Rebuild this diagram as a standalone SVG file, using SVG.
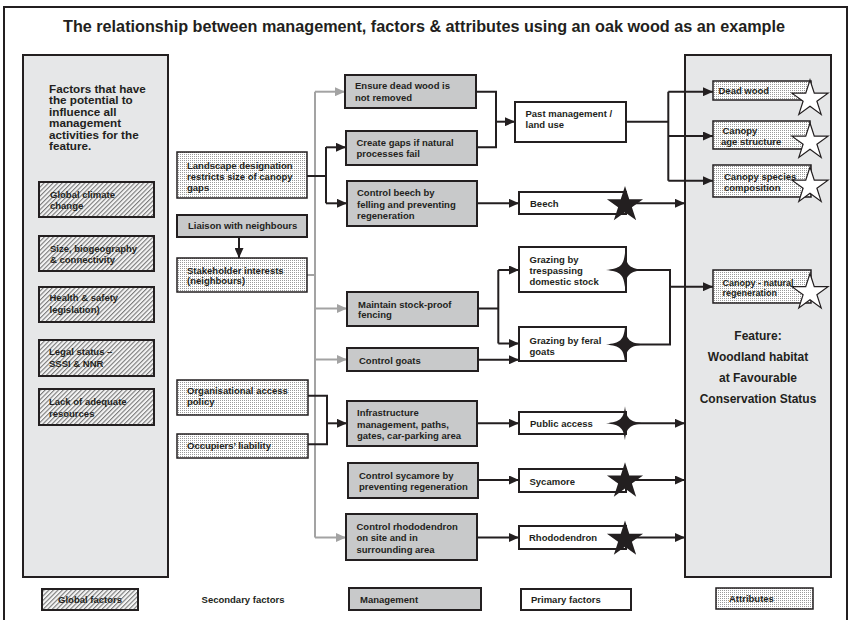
<svg xmlns="http://www.w3.org/2000/svg" xmlns:xlink="http://www.w3.org/1999/xlink" width="850" height="620" viewBox="0 0 850 620">
<defs>
<style>
.t{font-family:"Liberation Sans",Arial,Helvetica,sans-serif;font-weight:bold;fill:#231f20;font-size:9.5px}
.big{font-size:11.7px}
.ttl{font-size:16px}
.feat{font-size:12px}
.panel{fill:#e6e7e8;stroke:#231f20;stroke-width:2}
.mg{fill:#c8c9ca;stroke:#231f20;stroke-width:2}
.pf{fill:#ffffff;stroke:#231f20;stroke-width:2}
.sf{fill:url(#dots);stroke:#231f20;stroke-width:1.5}
.at{fill:url(#dots);stroke:#231f20;stroke-width:1.5}
.gf{fill:url(#hatch);stroke:#231f20;stroke-width:2}
.c{fill:none;stroke:#231f20;stroke-width:2}
.g{fill:none;stroke:#a3a3a3;stroke-width:2}
.ca{fill:none;stroke:#231f20;stroke-width:2;marker-end:url(#ab)}
.ga{fill:none;stroke:#a3a3a3;stroke-width:2;marker-end:url(#ag)}
.bs{fill:#231f20}
.ws{fill:#ffffff;stroke:#231f20;stroke-width:1.2}
</style>
<pattern id="dots" patternUnits="userSpaceOnUse" width="2" height="2">
<rect width="2" height="2" fill="#ffffff"/>
<rect width="1" height="1" fill="#9a9a9a"/>
</pattern>
<pattern id="hatch" patternUnits="userSpaceOnUse" width="3.2" height="3.2" patternTransform="rotate(45)">
<rect width="3.2" height="3.2" fill="#f4f4f4"/>
<rect width="1.1" height="3.2" fill="#7a7a7a"/>
</pattern>
<marker id="ab" markerUnits="userSpaceOnUse" markerWidth="10" markerHeight="9" refX="10" refY="4.5" orient="auto">
<path d="M0,0 L10,4.5 L0,9 Z" fill="#231f20"/>
</marker>
<marker id="ag" markerUnits="userSpaceOnUse" markerWidth="10" markerHeight="9" refX="10" refY="4.5" orient="auto">
<path d="M0,0 L10,4.5 L0,9 Z" fill="#a3a3a3"/>
</marker>
<path id="star5" d="M0,-19 L4.27,-5.87 L18.07,-5.87 L6.9,2.24 L11.17,15.37 L0,7.26 L-11.17,15.37 L-6.9,2.24 L-18.07,-5.87 L-4.27,-5.87 Z"/>
<path id="star4" d="M0,-17 C1.5,-4.5 4.5,-1.5 19,0 C4.5,1.5 1.5,4.5 0,17 C-1.5,4.5 -4.5,1.5 -19,0 C-4.5,-1.5 -1.5,-4.5 0,-17 Z"/>
</defs>

<rect width="850" height="620" fill="#ffffff"/>
<rect x="4" y="7" width="843" height="630" fill="none" stroke="#231f20" stroke-width="2"/>
<text class="t ttl" x="424" y="32" text-anchor="middle" textLength="722" lengthAdjust="spacingAndGlyphs">The relationship between management, factors &amp; attributes using an oak wood as an example</text>

<g id="global-panel">
<rect class="panel" x="23" y="55" width="145" height="522"/>
<text class="t big" x="49"><tspan x="49" y="92.5">Factors that have</tspan><tspan x="49" y="104">the potential to</tspan><tspan x="49" y="115.5">influence all</tspan><tspan x="49" y="127">management</tspan><tspan x="49" y="138.5">activities for the</tspan><tspan x="49" y="150">feature.</tspan></text>
</g>
<g id="gf-climate"><rect class="gf" x="39" y="182" width="115" height="35"/><text class="t"><tspan x="50" y="197.5">Global climate</tspan><tspan x="50" y="208.5">change</tspan></text></g>
<g id="gf-size"><rect class="gf" x="39" y="236" width="115" height="35"/><text class="t"><tspan x="50" y="251.5">Size, biogeography</tspan><tspan x="50" y="263">&amp; connectivity</tspan></text></g>
<g id="gf-health"><rect class="gf" x="39" y="287" width="115" height="35"/><text class="t"><tspan x="49.5" y="301">Health &amp; safety</tspan><tspan x="49.5" y="312.5">legislation)</tspan></text></g>
<g id="gf-legal"><rect class="gf" x="39" y="340" width="115" height="36"/><text class="t"><tspan x="49" y="355">Legal status –</tspan><tspan x="49" y="366.5">SSSI &amp; NNR</tspan></text></g>
<g id="gf-lack"><rect class="gf" x="39" y="389" width="115" height="36"/><text class="t"><tspan x="49" y="405">Lack of adequate</tspan><tspan x="49" y="416.5">resources</tspan></text></g>

<g id="attr-panel">
<rect class="panel" x="685" y="55" width="146" height="522"/>
<text class="t feat" text-anchor="middle"><tspan x="758" y="340">Feature:</tspan><tspan x="758" y="361">Woodland habitat</tspan><tspan x="758" y="382">at Favourable</tspan><tspan x="758" y="403">Conservation Status</tspan></text>
</g>

<g id="connectors">
<path class="g" d="M315,91.7 V537.5"/>
<path class="ga" d="M315,91.7 H345"/>
<path class="g" d="M307,275 H315"/>
<path class="ga" d="M315,308.5 H347"/>
<path class="ga" d="M315,359.5 H347"/>
<path class="ga" d="M315,537.5 H346"/>
<path class="ca" d="M239,237 V258"/>
<path class="c" d="M307,176 H326 M326,147 V203.3"/>
<path class="ca" d="M326,147.3 H346"/>
<path class="ca" d="M326,203.3 H347"/>
<path class="c" d="M308,395.7 H327 V444.3 H308"/>
<path class="ca" d="M327,423.3 H347"/>
<path class="c" d="M476,91.7 H496 V147.3 H477"/>
<path class="ca" d="M496,121.7 H515"/>
<path class="ca" d="M477,203.3 H519"/>
<path class="ca" d="M626,203.3 H685"/>
<path class="c" d="M626,121.7 H668.3 M668.3,91.7 V180.7"/>
<path class="ca" d="M668.3,91.7 H713"/>
<path class="ca" d="M668.3,136 H713"/>
<path class="ca" d="M668.3,180.7 H713"/>
<path class="c" d="M478,308.5 H498.3 M498.3,270 V343.5"/>
<path class="ca" d="M498.3,270 H519"/>
<path class="ca" d="M498.3,343.5 H519"/>
<path class="ca" d="M478,359.8 H519"/>
<path class="c" d="M626,270 H670 V344.5 H626"/>
<path class="ca" d="M670,286.7 H713"/>
<path class="ca" d="M477,423.3 H519"/>
<path class="ca" d="M626,423.3 H685"/>
<path class="ca" d="M478,480 H519"/>
<path class="ca" d="M626,480 H685"/>
<path class="ca" d="M477,537.5 H519"/>
<path class="ca" d="M626,537.5 H685"/>
</g>

<g id="sf-landscape"><rect class="sf" x="177" y="152" width="130" height="46"/><text class="t"><tspan x="187" y="168.5">Landscape designation</tspan><tspan x="187" y="180">restricts size of canopy</tspan><tspan x="187" y="191">gaps</tspan></text></g>
<g id="mg-liaison"><rect class="mg" x="177" y="215" width="130" height="22"/><text class="t" x="188" y="229">Liaison with neighbours</text></g>
<g id="sf-stakeholder"><rect class="sf" x="177" y="258" width="130" height="34"/><text class="t"><tspan x="187" y="273.5">Stakeholder interests</tspan><tspan x="187" y="284">(neighbours)</tspan></text></g>
<g id="sf-access"><rect class="sf" x="177" y="380" width="131" height="35"/><text class="t"><tspan x="187" y="394">Organisational access</tspan><tspan x="187" y="405">policy</tspan></text></g>
<g id="sf-occupiers"><rect class="sf" x="177" y="434" width="131" height="24"/><text class="t" x="187" y="449">Occupiers’ liability</text></g>

<g id="mg-deadwood"><rect class="mg" x="345" y="75" width="131" height="33"/><text class="t"><tspan x="355" y="89">Ensure dead wood is</tspan><tspan x="355" y="100.5">not removed</tspan></text></g>
<g id="mg-gaps"><rect class="mg" x="346" y="131" width="131" height="34"/><text class="t"><tspan x="356.5" y="145.5">Create gaps if natural</tspan><tspan x="356.5" y="157">processes fail</tspan></text></g>
<g id="mg-beech"><rect class="mg" x="347" y="181" width="130" height="45"/><text class="t"><tspan x="357" y="196">Control beech by</tspan><tspan x="357" y="207.5">felling and preventing</tspan><tspan x="357" y="219">regeneration</tspan></text></g>
<g id="mg-fencing"><rect class="mg" x="347" y="292" width="131" height="34"/><text class="t"><tspan x="358" y="307.5">Maintain stock-proof</tspan><tspan x="358" y="318">fencing</tspan></text></g>
<g id="mg-goats"><rect class="mg" x="347" y="348" width="131" height="23"/><text class="t" x="359" y="363.5">Control goats</text></g>
<g id="mg-infra"><rect class="mg" x="347" y="401" width="130" height="45"/><text class="t"><tspan x="357" y="416">Infrastructure</tspan><tspan x="357" y="427.5">management, paths,</tspan><tspan x="357" y="438.5">gates, car-parking area</tspan></text></g>
<g id="mg-sycamore"><rect class="mg" x="348" y="463" width="130" height="35"/><text class="t"><tspan x="359" y="479">Control sycamore by</tspan><tspan x="359" y="490">preventing regeneration</tspan></text></g>
<g id="mg-rhodo"><rect class="mg" x="346" y="514" width="131" height="46"/><text class="t"><tspan x="356.5" y="530">Control rhododendron</tspan><tspan x="356.5" y="541">on site and in</tspan><tspan x="356.5" y="552.5">surrounding area</tspan></text></g>

<g id="pf-past"><rect class="pf" x="515" y="102" width="111" height="40"/><text class="t"><tspan x="525.5" y="116.5">Past management /</tspan><tspan x="525.5" y="127.5">land use</tspan></text></g>
<g id="pf-beech"><rect class="pf" x="519" y="192" width="107" height="22"/><text class="t" x="530" y="206.5">Beech</text><use href="#star5" class="bs" x="625" y="205"/></g>
<g id="pf-trespass"><rect class="pf" x="519" y="247" width="107" height="45"/><text class="t"><tspan x="529.5" y="262.5">Grazing by</tspan><tspan x="529.5" y="274">trespassing</tspan><tspan x="529.5" y="284.5">domestic stock</tspan></text><use href="#star4" class="bs" x="625" y="270"/></g>
<g id="pf-feral"><rect class="pf" x="519" y="327" width="107" height="34"/><text class="t"><tspan x="529.5" y="343.5">Grazing by feral</tspan><tspan x="529.5" y="354.5">goats</tspan></text><use href="#star4" class="bs" x="625" y="344.5"/></g>
<g id="pf-public"><rect class="pf" x="519" y="412" width="107" height="22"/><text class="t" x="530" y="426.5">Public access</text><use href="#star4" class="bs" x="625" y="423.3"/></g>
<g id="pf-sycamore"><rect class="pf" x="519" y="469" width="107" height="23"/><text class="t" x="529.5" y="484.5">Sycamore</text><use href="#star5" class="bs" x="625" y="481.3"/></g>
<g id="pf-rhodo"><rect class="pf" x="519" y="526" width="107" height="23"/><text class="t" x="529" y="541">Rhododendron</text><use href="#star5" class="bs" x="625" y="539.5"/></g>

<g id="at-deadwood"><rect class="at" x="713" y="81" width="98" height="19"/><use href="#star5" class="ws" x="810" y="99"/><text class="t" x="718.5" y="93.5">Dead wood</text></g>
<g id="at-age"><rect class="at" x="713" y="121" width="97" height="28"/><use href="#star5" class="ws" x="810" y="142"/><text class="t"><tspan x="722.5" y="134">Canopy</tspan><tspan x="721" y="145">age structure</tspan></text></g>
<g id="at-species"><rect class="at" x="713" y="165" width="98" height="32"/><use href="#star5" class="ws" x="810" y="186"/><text class="t"><tspan x="724" y="179.5">Canopy species</tspan><tspan x="724" y="191">composition</tspan></text></g>
<g id="at-regen"><rect class="at" x="713" y="270" width="98" height="33"/><use href="#star5" class="ws" x="810" y="292.5"/><text class="t" style="font-size:9px"><tspan x="722.5" y="286">Canopy - natural</tspan><tspan x="722.5" y="296">regeneration</tspan></text></g>

<g id="legend">
<rect class="gf" x="42" y="589" width="96" height="21"/><text class="t" x="90" y="603" text-anchor="middle">Global factors</text>
<text class="t" x="243" y="603" text-anchor="middle">Secondary factors</text>
<rect class="mg" x="349" y="588" width="132" height="22"/><text class="t" x="360" y="603">Management</text>
<rect class="pf" x="521" y="589" width="110" height="21"/><text class="t" x="531" y="603">Primary factors</text>
<rect class="at" x="716" y="588" width="97" height="21"/><text class="t" x="729" y="602">Attributes</text>
</g>
</svg>
